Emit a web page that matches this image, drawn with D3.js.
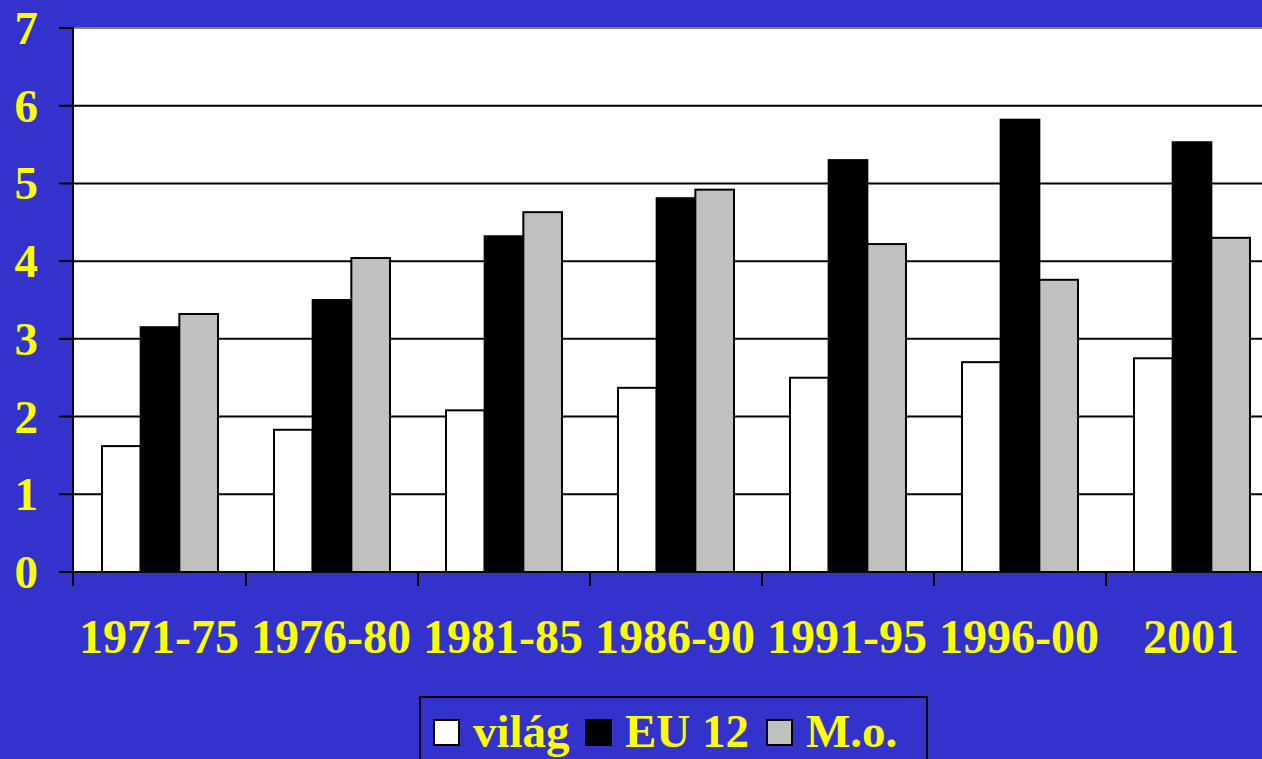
<!DOCTYPE html>
<html>
<head>
<meta charset="utf-8">
<script src="https://cdn.jsdelivr.net/npm/d3@7"></script>
<style>
  html, body { margin: 0; padding: 0; background: #3333cc; overflow: hidden; }
  svg { display: block; }
</style>
</head>
<body>
<svg width="1262" height="759"></svg>
<script>
var categories = ["1971-75", "1976-80", "1981-85", "1986-90", "1991-95", "1996-00", "2001"];
var series = ["világ", "EU 12", "M.o."];
var vilag = [1.62, 1.83, 2.08, 2.37, 2.50, 2.70, 2.75];
var eu12  = [3.15, 3.50, 4.32, 4.81, 5.30, 5.82, 5.53];
var mo    = [3.32, 4.04, 4.63, 4.92, 4.22, 3.76, 4.30];
var yTicks = [0, 1, 2, 3, 4, 5, 6, 7];

var values = [vilag, eu12, mo];
var colors = ["#ffffff", "#000000", "#c0c0c0"];

var svg = d3.select("svg"),
    width = +svg.attr("width"),
    height = +svg.attr("height");

var plotLeft = 74, plotTop = 28, plotBottom = 572, step = 172;
var plotRight = plotLeft + step * categories.length;
var font = "'Liberation Serif', 'Times New Roman', serif";

var x0 = d3.scaleBand().domain(categories).range([plotLeft, plotRight]);
var x1 = d3.scaleBand().domain(series).range([28, step - 28]);
var y = d3.scaleLinear().domain([0, 7]).range([plotBottom, plotTop]);

// plot area
svg.append("rect")
  .attr("x", plotLeft).attr("y", plotTop)
  .attr("width", plotRight - plotLeft).attr("height", plotBottom - plotTop)
  .attr("fill", "#fff");

svg.append("line")
  .attr("x1", plotLeft).attr("x2", plotRight)
  .attr("y1", plotTop).attr("y2", plotTop)
  .attr("stroke", "#808080").attr("stroke-width", 2);

// gridlines
svg.append("g").selectAll("line")
  .data(yTicks.slice(1, 7))
  .enter().append("line")
  .attr("x1", plotLeft).attr("x2", plotRight)
  .attr("y1", function(d) { return y(d); })
  .attr("y2", function(d) { return y(d); })
  .attr("stroke", "#000").attr("stroke-width", 2);

// bars
var rows = [];
categories.forEach(function(c, i) {
  series.forEach(function(s, j) {
    rows.push({cat: c, ser: s, val: values[j][i], color: colors[j]});
  });
});

svg.append("g").selectAll("rect")
  .data(rows)
  .enter().append("rect")
  .attr("x", function(d) { return x0(d.cat) + x1(d.ser); })
  .attr("y", function(d) { return y(d.val); })
  .attr("width", x1.bandwidth())
  .attr("height", function(d) { return plotBottom - y(d.val); })
  .attr("fill", function(d) { return d.color; })
  .attr("stroke", "#000").attr("stroke-width", 2);

// axes
svg.append("line")
  .attr("x1", plotLeft - 1).attr("x2", plotLeft - 1)
  .attr("y1", plotTop).attr("y2", plotBottom + 14)
  .attr("stroke", "#000").attr("stroke-width", 2);

svg.append("line")
  .attr("x1", plotLeft - 15).attr("x2", plotRight)
  .attr("y1", plotBottom).attr("y2", plotBottom)
  .attr("stroke", "#000").attr("stroke-width", 2);

svg.append("g").selectAll("line")
  .data(yTicks)
  .enter().append("line")
  .attr("x1", plotLeft - 15).attr("x2", plotLeft)
  .attr("y1", function(d) { return y(d); })
  .attr("y2", function(d) { return y(d); })
  .attr("stroke", "#000").attr("stroke-width", 2);

svg.append("g").selectAll("line")
  .data(categories.slice(1))
  .enter().append("line")
  .attr("x1", function(d) { return x0(d); })
  .attr("x2", function(d) { return x0(d); })
  .attr("y1", plotBottom).attr("y2", plotBottom + 14)
  .attr("stroke", "#000").attr("stroke-width", 2);

svg.append("g").selectAll("text")
  .data(yTicks)
  .enter().append("text")
  .attr("x", 38)
  .attr("y", function(d) { return y(d) + 16; })
  .attr("text-anchor", "end")
  .style("font", "bold 47px " + font)
  .attr("fill", "#ffff00")
  .text(function(d) { return d; });

svg.append("g").selectAll("text")
  .data(categories)
  .enter().append("text")
  .attr("x", function(d) { return x0(d) + step / 2 - 1; })
  .attr("y", 653)
  .attr("text-anchor", "middle")
  .style("font", "bold 48px " + font)
  .attr("fill", "#ffff00")
  .text(function(d) { return d; });

// legend
var legend = svg.append("g");
legend.append("rect")
  .attr("x", 420).attr("y", 697)
  .attr("width", 507).attr("height", 80)
  .attr("fill", "none").attr("stroke", "#000").attr("stroke-width", 2);

var legendX = [434, 586, 767];
series.forEach(function(s, j) {
  legend.append("rect")
    .attr("x", legendX[j]).attr("y", 720)
    .attr("width", 25).attr("height", 25)
    .attr("fill", colors[j]).attr("stroke", "#000").attr("stroke-width", 2);
  legend.append("text")
    .attr("x", legendX[j] + 39).attr("y", 747)
    .style("font", "bold 47px " + font)
    .attr("fill", "#ffff00")
    .text(s);
});
</script>
</body>
</html>
